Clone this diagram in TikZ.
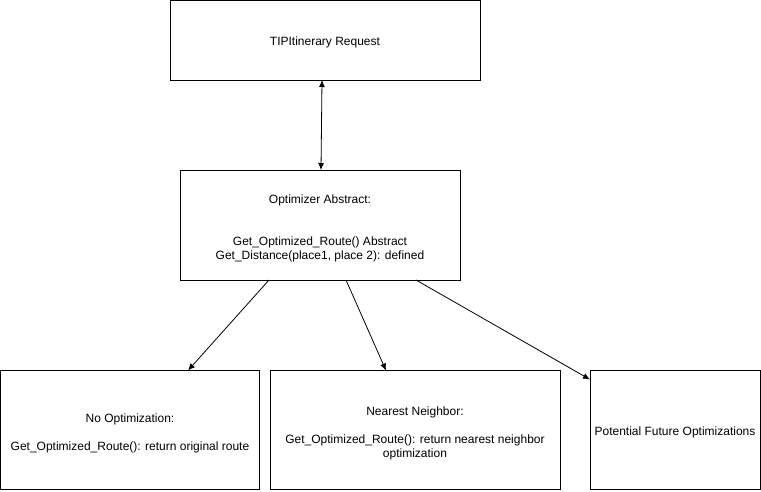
\documentclass[tikz,border=0pt]{standalone}
\usepackage{fontspec}
\setmainfont{Liberation Sans}
\usetikzlibrary{arrows.meta}
\begin{document}
\begin{tikzpicture}[x=1pt,y=-1pt,
  box/.style={draw=black,line width=1pt,inner sep=0pt,outer sep=0pt},
  txt/.style={align=center,inner sep=0pt,yshift=-3pt,font=\fontsize{12}{14}\selectfont},
  conn/.style={line width=0.8pt,-{Latex[length=7pt,width=6pt]}},
  dconn/.style={line width=0.8pt,{Latex[length=7pt,width=6pt]}-{Latex[length=7pt,width=6pt]}}]
\useasboundingbox (0,0) rectangle (761,491);
\node[box,minimum width=310pt,minimum height=80pt,
  label={[txt,yshift=1pt]center:TIPItinerary Request}] (top) at (325,40) {};
\node[box,minimum width=280pt,minimum height=110pt,
  label={[txt]center:{Optimizer Abstract:\\[28pt]Get\_Optimized\_Route() Abstract\\Get\_Distance(place1, place 2): defined}}] (opt) at (320,225) {};
\node[box,minimum width=259pt,minimum height=119pt,
  label={[txt]center:{No Optimization:\\[14pt]Get\_Optimized\_Route(): return original route}}] (noopt) at (130,430) {};
\node[box,minimum width=290pt,minimum height=119pt,
  label={[txt]center:{Nearest Neighbor:\\[14pt]Get\_Optimized\_Route(): return nearest neighbor\\optimization}}] (near) at (415,430) {};
\node[box,minimum width=170pt,minimum height=119pt,
  label={[txt,yshift=1pt]center:Potential Future Optimizations}] (pot) at (675,430) {};
\draw[dconn] ([xshift=-3pt]top.south) -- ([xshift=1pt]opt.north);
\draw[conn] ([xshift=-51pt]opt.south) -- ([xshift=58pt]noopt.north);
\draw[conn] ([xshift=26pt]opt.south) -- ([xshift=-29pt]near.north);
\draw[conn] ([xshift=96pt]opt.south) -- ([yshift=-9pt]pot.north west);
\end{tikzpicture}
\end{document}
